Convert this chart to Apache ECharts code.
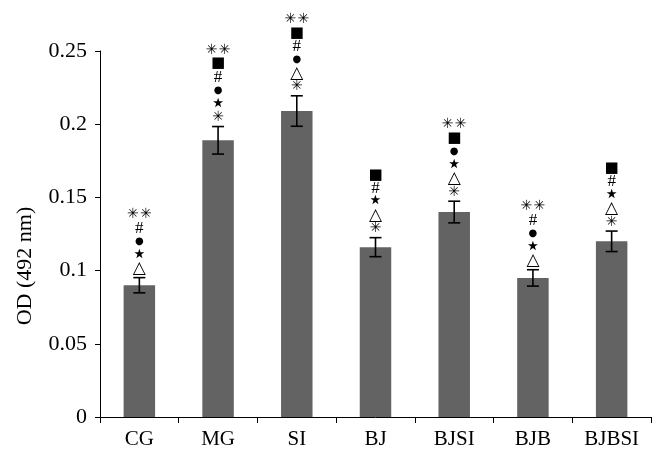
<!DOCTYPE html>
<html>
<head>
<meta charset="utf-8">
<script src="https://cdn.jsdelivr.net/npm/echarts@6/dist/echarts.min.js"></script>
<style>
html,body{margin:0;padding:0;background:#fff;}
#chart{width:660px;height:464px;}
</style>
</head>
<body>
<div id="chart"></div>
<script>
var categories = ['CG', 'MG', 'SI', 'BJ', 'BJSI', 'BJB', 'BJBSI'];
var values = [0.090, 0.189, 0.209, 0.116, 0.140, 0.095, 0.120];
var errors = [0.0052, 0.0094, 0.0104, 0.0065, 0.0074, 0.0056, 0.0070];
var yTicks = [0, 0.05, 0.1, 0.15, 0.2, 0.25];
// significance markers, top to bottom ('**' = pair of asterisks)
var markers = [
  ['**', '#', '\u25CF', '\u22C6', '\u25B3'],
  ['**', '\u25A0', '#', '\u25CF', '\u22C6', '*'],
  ['**', '\u25A0', '#', '\u25CF', '\u25B3', '*'],
  ['\u25A0', '#', '\u22C6', '\u25B3', '*'],
  ['**', '\u25A0', '\u25CF', '\u22C6', '\u25B3', '*'],
  ['**', '#', '\u25CF', '\u22C6', '\u25B3'],
  ['\u25A0', '#', '\u22C6', '\u25B3', '*']
];

var chart = echarts.init(document.getElementById('chart'));
var serif = 'Liberation Serif';
var AST = '\u2733';

function glyph(t, x, y) {
  var size = 15, font = 'DejaVu Sans', text = t;
  if (t === '#') { size = 17; font = serif; }
  else if (t === '\u25CF') { size = 10; }
  else if (t === '\u25A0') { size = 15; }
  else if (t === '\u25B3') { size = 17; }
  else if (t === '\u22C6') { size = 26; }
  else { size = 14; text = AST; }
  return {
    type: 'text', x: x, y: y,
    style: { text: text, font: size + 'px "' + font + '"', fill: '#000', textAlign: 'center', textVerticalAlign: 'middle' }
  };
}

var option = {
  animation: false,
  grid: { left: 100, right: 9, top: 51, bottom: 47 },
  xAxis: {
    type: 'category',
    data: categories,
    axisLine: { lineStyle: { color: '#000', width: 1 } },
    axisTick: { show: true, length: 6, lineStyle: { color: '#000' } },
    axisLabel: { color: '#000', fontFamily: serif, fontSize: 21, margin: 12 }
  },
  yAxis: {
    type: 'value',
    min: 0, max: 0.25, interval: 0.05,
    splitLine: { show: false },
    axisLine: { show: true, lineStyle: { color: '#000', width: 1 } },
    axisTick: { show: true, length: 5, lineStyle: { color: '#000' } },
    axisLabel: {
      color: '#000', fontFamily: serif, fontSize: 22, margin: 13,
      formatter: function (v) { return String(+v.toFixed(2)); }
    }
  },
  graphic: [{
    type: 'text',
    rotation: Math.PI / 2,
    x: 25, y: 266,
    style: { text: 'OD (492 nm)', font: '22px "Liberation Serif"', fill: '#000', textAlign: 'center', textVerticalAlign: 'middle' }
  }],
  series: [
    {
      type: 'bar',
      data: values,
      barWidth: '40%',
      itemStyle: { color: '#636363' }
    },
    {
      type: 'custom',
      data: values.map(function (v, i) { return [i, v, errors[i]]; }),
      z: 10,
      renderItem: function (params, api) {
        var i = api.value(0), v = api.value(1), e = api.value(2);
        var top = api.coord([i, v + e]);
        var bot = api.coord([i, v - e]);
        var cx = top[0];
        var cap = 6;
        var children = [
          { type: 'line', shape: { x1: cx, y1: top[1], x2: cx, y2: bot[1] }, style: { stroke: '#000', lineWidth: 1.6 } },
          { type: 'line', shape: { x1: cx - cap, y1: top[1], x2: cx + cap, y2: top[1] }, style: { stroke: '#000', lineWidth: 1.6 } },
          { type: 'line', shape: { x1: cx - cap, y1: bot[1], x2: cx + cap, y2: bot[1] }, style: { stroke: '#000', lineWidth: 1.6 } }
        ];
        var m = markers[params.dataIndex];
        var step = 13.5;
        for (var k = 0; k < m.length; k++) {
          var idxFromBottom = m.length - 1 - k;
          var y = top[1] - 9 - idxFromBottom * step;
          if (m[k] === '**') {
            children.push(glyph('*', cx - 6.5, y));
            children.push(glyph('*', cx + 6.5, y));
          } else {
            children.push(glyph(m[k], cx, y));
          }
        }
        return { type: 'group', children: children };
      }
    }
  ]
};
chart.setOption(option);
</script>
</body>
</html>
